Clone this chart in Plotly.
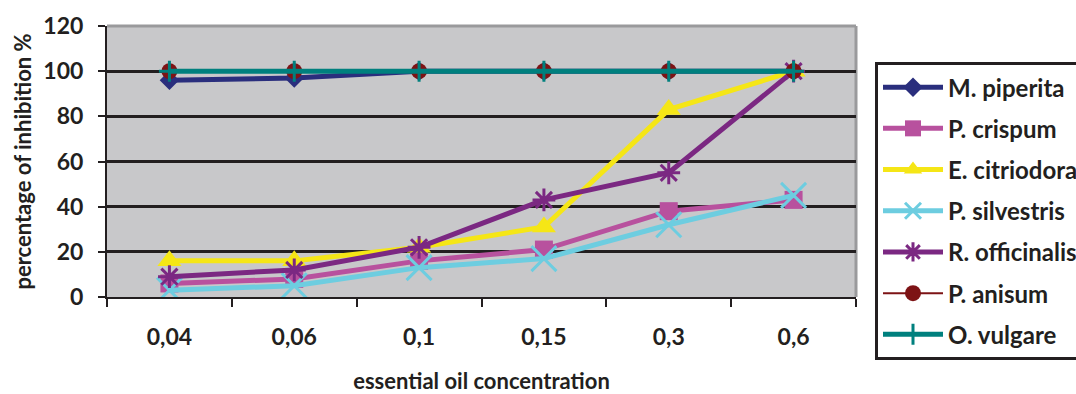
import plotly.graph_objects as go

concentrations = ["0,04", "0,06", "0,1", "0,15", "0,3", "0,6"]
m_piperita = [96, 97, 100, 100, 100, 100]
p_crispum = [6, 8, 16, 21, 38, 43]
e_citriodora = [16, 16, 22, 31, 83, 100]
p_silvestris = [3, 5, 13, 17, 32, 45]
r_officinalis = [9, 12, 22, 43, 55, 100]
p_anisum = [100, 100, 100, 100, 100, 100]
o_vulgare = [100, 100, 100, 100, 100, 100]

series = [
    ("M. piperita", m_piperita, "#2a2e7d", "diamond", 15, 5),
    ("P. crispum", p_crispum, "#b8519e", "square", 18, 5),
    ("E. citriodora", e_citriodora, "#f5e616", "triangle-up", 21, 5),
    ("P. silvestris", p_silvestris, "#6dcde0", "x-thin", 25, 5),
    ("R. officinalis", r_officinalis, "#7b2882", "asterisk", 19, 5),
    ("P. anisum", p_anisum, "#7d1315", "circle", 16, 2),
    ("O. vulgare", o_vulgare, "#00807e", "cross-thin", 15, 5),
]

fig = go.Figure()
for i, (name, vals, color, sym, size, lw) in enumerate(series):
    thin = sym in ("x-thin", "asterisk", "cross-thin")
    fig.add_trace(go.Scatter(
        x=concentrations, y=vals, name=name, mode="lines+markers",
        legendgroup=f"g{i}",
        line=dict(color=color, width=lw),
        marker=dict(symbol=sym, size=size, color=color,
                    line=dict(color=color, width=3 if thin else 0)),
    ))

font_family = "Lato, Open Sans, sans-serif"
text_color = "#231f20"

fig.update_layout(
    width=1076, height=394,
    margin=dict(l=107, r=220, t=26, b=97),
    paper_bgcolor="white",
    plot_bgcolor="#c8c8ca",
    font=dict(family=font_family, color=text_color),
    showlegend=True,
    legend=dict(
        xref="container", x=875 / 1076, y=0.867, xanchor="left", yanchor="top",
        bgcolor="white", bordercolor=text_color, borderwidth=3,
        font=dict(size=24, family=font_family, weight="bold", color=text_color),
        tracegroupgap=7, itemwidth=60, maxheight=400,
    ),
    xaxis=dict(
        type="category", range=[-0.5, 5.5], automargin=False,
        showgrid=False, zeroline=False,
        showline=True, linecolor=text_color, linewidth=2,
        ticks="outside", tickson="boundaries", ticklen=8, tickwidth=2, tickcolor=text_color,
        tickfont=dict(size=23, family=font_family, weight="bold", color=text_color),
        ticklabelstandoff=18,
        title=dict(text="essential oil concentration", standoff=27,
                   font=dict(size=22, family=font_family, weight="bold", color=text_color)),
    ),
    yaxis=dict(
        range=[0, 120], dtick=20, automargin=False,
        showgrid=True, gridcolor=text_color, gridwidth=2.5,
        zeroline=False,
        showline=True, linecolor=text_color, linewidth=2,
        ticks="outside", ticklen=7, tickwidth=2, tickcolor=text_color,
        tickfont=dict(size=23, family=font_family, weight="bold", color=text_color),
        ticklabelstandoff=10,
        title=dict(text="percentage of inhibition %", standoff=6,
                   font=dict(size=22, family=font_family, weight="bold", color=text_color)),
    ),
    shapes=[
        dict(type="line", xref="paper", yref="paper", x0=0, x1=1, y0=1, y1=1,
             line=dict(color="#9a9a9c", width=3), layer="above"),
        dict(type="line", xref="paper", yref="paper", x0=1, x1=1, y0=0, y1=1,
             line=dict(color="#9a9a9c", width=3), layer="below"),
    ],
)

fig.write_html("out.html", config={"displayModeBar": False},
               post_script="document.body.style.margin='0';")
